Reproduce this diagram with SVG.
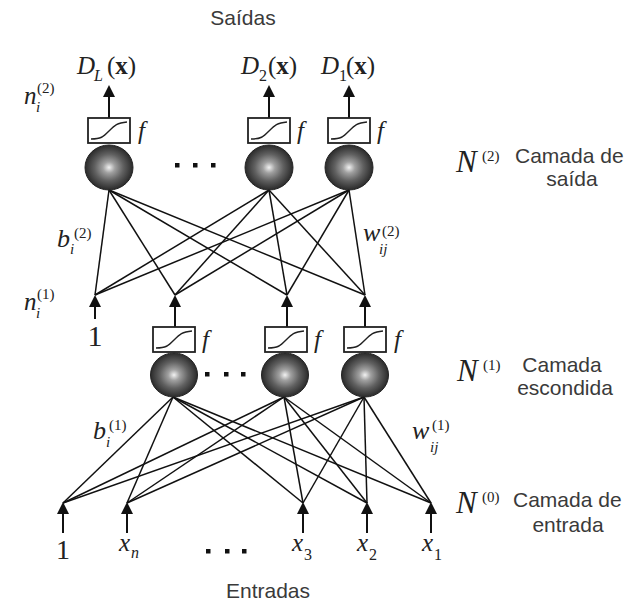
<svg xmlns="http://www.w3.org/2000/svg" xmlns:xlink="http://www.w3.org/1999/xlink" width="629" height="604" viewBox="0 0 629 604">
<style>
.lbl{font-family:"Liberation Sans",Arial,sans-serif;font-size:21px;fill:#3a3a3a}
.mi{font-family:"Liberation Serif","Times New Roman",serif;font-style:italic;fill:#222}
.mr{font-family:"Liberation Serif","Times New Roman",serif;fill:#222}
.cn{stroke:#111;stroke-width:1.5;fill:none}
.stem{stroke:#111;stroke-width:2;fill:none}
.box{fill:#fff;stroke:#222;stroke-width:1.8}
.sig{fill:none;stroke:#222;stroke-width:1.4}
.neu{fill:url(#sph);stroke:#222;stroke-width:1}
.dot{fill:#111}
</style>
<defs>
<radialGradient id="sph" cx="0.5" cy="0.5" r="0.5">
<stop offset="0" stop-color="#f2f2f2"/>
<stop offset="0.25" stop-color="#a0a0a0"/>
<stop offset="0.6" stop-color="#606060"/>
<stop offset="1" stop-color="#2a2a2a"/>
</radialGradient>
<path id="ah" d="M0,0 L6,12 L-6,12 Z" fill="#111"/>
<g id="act">
<rect class="box" x="-21" y="0" width="42" height="25"/>
<path class="sig" d="M-18,21 C-8,21 -6,19 0,13 C6,7 8,5 18,4"/>
</g>
</defs>

<g id="connectors">
<line class="cn" x1="109" y1="190" x2="95" y2="295"/>
<line class="cn" x1="109" y1="190" x2="175" y2="295"/>
<line class="cn" x1="109" y1="190" x2="287" y2="295"/>
<line class="cn" x1="109" y1="190" x2="365" y2="295"/>
<line class="cn" x1="269" y1="190" x2="95" y2="295"/>
<line class="cn" x1="269" y1="190" x2="175" y2="295"/>
<line class="cn" x1="269" y1="190" x2="287" y2="295"/>
<line class="cn" x1="269" y1="190" x2="365" y2="295"/>
<line class="cn" x1="349" y1="190" x2="95" y2="295"/>
<line class="cn" x1="349" y1="190" x2="175" y2="295"/>
<line class="cn" x1="349" y1="190" x2="287" y2="295"/>
<line class="cn" x1="349" y1="190" x2="365" y2="295"/>

<line class="cn" x1="173" y1="397" x2="63" y2="503"/>
<line class="cn" x1="173" y1="397" x2="127" y2="503"/>
<line class="cn" x1="173" y1="397" x2="303" y2="503"/>
<line class="cn" x1="173" y1="397" x2="367" y2="503"/>
<line class="cn" x1="173" y1="397" x2="431" y2="503"/>
<line class="cn" x1="284" y1="397" x2="63" y2="503"/>
<line class="cn" x1="284" y1="397" x2="127" y2="503"/>
<line class="cn" x1="284" y1="397" x2="303" y2="503"/>
<line class="cn" x1="284" y1="397" x2="367" y2="503"/>
<line class="cn" x1="284" y1="397" x2="431" y2="503"/>
<line class="cn" x1="364" y1="397" x2="63" y2="503"/>
<line class="cn" x1="364" y1="397" x2="127" y2="503"/>
<line class="cn" x1="364" y1="397" x2="303" y2="503"/>
<line class="cn" x1="364" y1="397" x2="367" y2="503"/>
<line class="cn" x1="364" y1="397" x2="431" y2="503"/>

<line class="stem" x1="109" y1="118" x2="109" y2="96"/><use xlink:href="#ah" x="109" y="85"/>
<line class="stem" x1="269" y1="118" x2="269" y2="96"/><use xlink:href="#ah" x="269" y="85"/>
<line class="stem" x1="349" y1="118" x2="349" y2="96"/><use xlink:href="#ah" x="349" y="85"/>
<line class="stem" x1="95" y1="319" x2="95" y2="305"/><use xlink:href="#ah" x="95" y="295"/>
<line class="stem" x1="175" y1="327" x2="175" y2="305"/><use xlink:href="#ah" x="175" y="295"/>
<line class="stem" x1="287" y1="327" x2="287" y2="305"/><use xlink:href="#ah" x="287" y="295"/>
<line class="stem" x1="365" y1="327" x2="365" y2="305"/><use xlink:href="#ah" x="365" y="295"/>
<line class="stem" x1="63" y1="533" x2="63" y2="512"/><use xlink:href="#ah" x="63" y="502"/>
<line class="stem" x1="127" y1="533" x2="127" y2="512"/><use xlink:href="#ah" x="127" y="502"/>
<line class="stem" x1="303" y1="533" x2="303" y2="512"/><use xlink:href="#ah" x="303" y="502"/>
<line class="stem" x1="367" y1="533" x2="367" y2="512"/><use xlink:href="#ah" x="367" y="502"/>
<line class="stem" x1="431" y1="533" x2="431" y2="512"/><use xlink:href="#ah" x="431" y="502"/>
</g>

<g id="out_L">
<use xlink:href="#act" x="109" y="118"/>
<ellipse class="neu" cx="109" cy="167.5" rx="24" ry="22.5"/>
<text class="mi" x="138" y="139" font-size="25">f</text>
<text class="mi" x="77" y="74" font-size="25">D</text><text class="mi" x="94" y="81" font-size="16">L</text>
<text class="mr" x="107" y="74" font-size="25">(<tspan font-weight="bold">x</tspan>)</text>
</g>
<g id="out_2">
<use xlink:href="#act" x="269" y="118"/>
<ellipse class="neu" cx="269" cy="167.5" rx="24" ry="22.5"/>
<text class="mi" x="297" y="139" font-size="25">f</text>
<text class="mi" x="241" y="74" font-size="25">D</text><text class="mr" x="259" y="81" font-size="16">2</text>
<text class="mr" x="268" y="74" font-size="25">(<tspan font-weight="bold">x</tspan>)</text>
</g>
<g id="out_1">
<use xlink:href="#act" x="349" y="118"/>
<ellipse class="neu" cx="349" cy="167.5" rx="24" ry="22.5"/>
<text class="mi" x="377" y="139" font-size="25">f</text>
<text class="mi" x="321" y="74" font-size="25">D</text><text class="mr" x="339" y="81" font-size="16">1</text>
<text class="mr" x="346" y="74" font-size="25">(<tspan font-weight="bold">x</tspan>)</text>
</g>
<g id="dots_out">
<rect class="dot" x="175" y="163" width="4.5" height="4.5"/>
<rect class="dot" x="193" y="163" width="4.5" height="4.5"/>
<rect class="dot" x="211" y="163" width="4.5" height="4.5"/>
</g>

<g id="hid_1">
<use xlink:href="#act" x="174" y="327"/>
<ellipse class="neu" cx="174" cy="375" rx="23.5" ry="22"/>
<text class="mi" x="202" y="348" font-size="25">f</text>
</g>
<g id="hid_2">
<use xlink:href="#act" x="286" y="327"/>
<ellipse class="neu" cx="285" cy="375" rx="23.5" ry="22"/>
<text class="mi" x="314" y="348" font-size="25">f</text>
</g>
<g id="hid_3">
<use xlink:href="#act" x="365" y="327"/>
<ellipse class="neu" cx="365" cy="375" rx="23.5" ry="22"/>
<text class="mi" x="394" y="348" font-size="25">f</text>
</g>
<g id="dots_hid">
<rect class="dot" x="205" y="372" width="4.5" height="4.5"/>
<rect class="dot" x="224" y="372" width="4.5" height="4.5"/>
<rect class="dot" x="241" y="372" width="4.5" height="4.5"/>
</g>
<g id="bias_hid">
<text class="mr" x="95" y="346" font-size="30" text-anchor="middle">1</text>
</g>

<g id="in_bias"><text class="mr" x="63" y="559" font-size="28" text-anchor="middle">1</text></g>
<g id="in_xn"><text class="mi" x="119" y="551" font-size="25">x</text><text class="mi" x="131" y="558" font-size="16">n</text></g>
<g id="in_x3"><text class="mi" x="292" y="551" font-size="25">x</text><text class="mr" x="304" y="560" font-size="16">3</text></g>
<g id="in_x2"><text class="mi" x="357" y="551" font-size="25">x</text><text class="mr" x="369" y="560" font-size="16">2</text></g>
<g id="in_x1"><text class="mi" x="422" y="551" font-size="25">x</text><text class="mr" x="434" y="560" font-size="16">1</text></g>
<g id="dots_in">
<rect class="dot" x="206" y="549" width="4.5" height="4.5"/>
<rect class="dot" x="225" y="549" width="4.5" height="4.5"/>
<rect class="dot" x="242" y="549" width="4.5" height="4.5"/>
</g>

<g id="labels_math">
<text class="mi" x="24" y="104" font-size="25">n</text><text class="mi" x="36" y="112" font-size="15">i</text><text class="mr" x="37" y="93" font-size="15">(2)</text>
<text class="mi" x="24" y="310" font-size="25">n</text><text class="mi" x="36" y="318" font-size="15">i</text><text class="mr" x="37" y="299" font-size="15">(1)</text>
<text class="mi" x="57" y="247" font-size="26">b</text><text class="mi" x="70" y="254" font-size="15">i</text><text class="mr" x="74" y="238" font-size="15">(2)</text>
<text class="mi" x="363" y="241" font-size="26">w</text><text class="mi" x="379" y="254" font-size="15">ij</text><text class="mr" x="382" y="236" font-size="15">(2)</text>
<text class="mi" x="93" y="439" font-size="26">b</text><text class="mi" x="106" y="447" font-size="15">i</text><text class="mr" x="109" y="430" font-size="15">(1)</text>
<text class="mi" x="412" y="439" font-size="26">w</text><text class="mi" x="430" y="452" font-size="15">ij</text><text class="mr" x="432" y="430" font-size="15">(1)</text>
</g>

<g id="layer2">
<text class="mi" x="456" y="172" font-size="31">N</text><text class="mr" x="482" y="161" font-size="15">(2)</text>
<text class="lbl" x="515" y="163">Camada de</text>
<text class="lbl" x="572" y="186" text-anchor="middle">saída</text>
</g>
<g id="layer1">
<text class="mi" x="457" y="381" font-size="31">N</text><text class="mr" x="483" y="370" font-size="15">(1)</text>
<text class="lbl" x="562" y="372" text-anchor="middle">Camada</text>
<text class="lbl" x="565" y="395" text-anchor="middle">escondida</text>
</g>
<g id="layer0">
<text class="mi" x="456" y="513" font-size="31">N</text><text class="mr" x="482" y="502" font-size="15">(0)</text>
<text class="lbl" x="513" y="507">Camada de</text>
<text class="lbl" x="568" y="532" text-anchor="middle">entrada</text>
</g>
<g id="titles">
<text class="lbl" x="243" y="25" text-anchor="middle">Saídas</text>
<text class="lbl" x="268" y="598" text-anchor="middle">Entradas</text>
</g>
</svg>
